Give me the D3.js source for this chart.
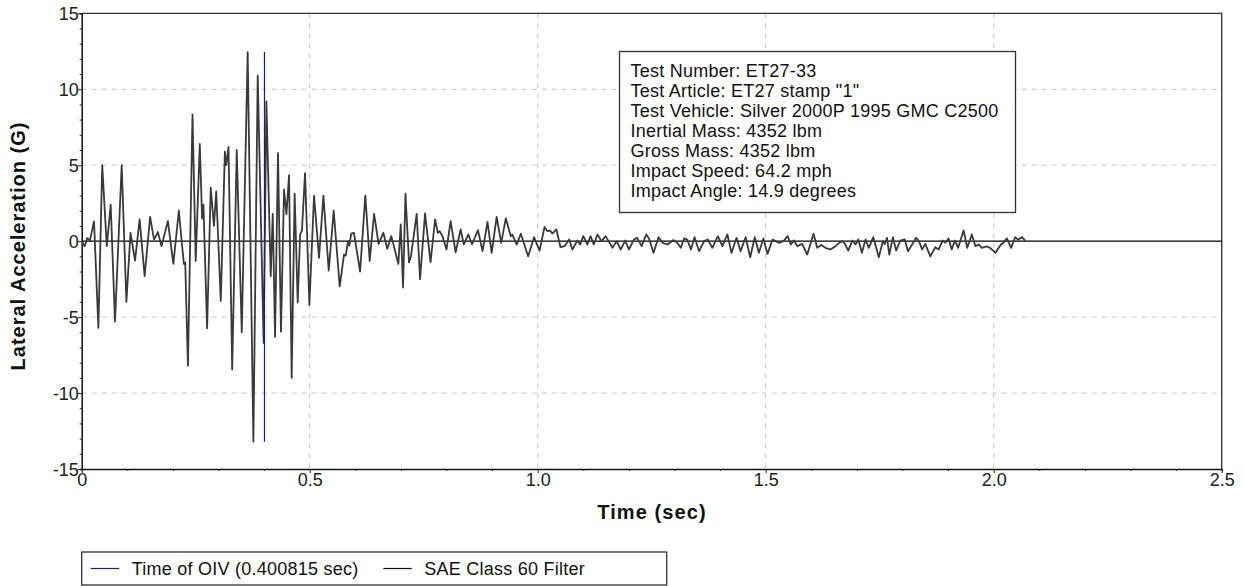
<!DOCTYPE html>
<html>
<head>
<meta charset="utf-8">
<script src="https://cdn.jsdelivr.net/npm/d3@7"></script>
<style>
  body { margin: 0; background: #fff; }
  svg { display: block; font-family: "Liberation Sans", Arial, sans-serif; }
</style>
</head>
<body>
<svg id="chart" width="1244" height="586"></svg>
<script>
// time (sec) and lateral acceleration (G), peak to peak
const times = [
  0.000, 0.0066, 0.012, 0.018, 0.027, 0.0366, 0.045, 0.055, 0.0636, 0.073,
  0.0877, 0.098, 0.107, 0.117, 0.127, 0.138, 0.150, 0.1586, 0.167, 0.175,
  0.189, 0.201, 0.213, 0.224, 0.227, 0.233, 0.243, 0.250, 0.259, 0.264,
  0.267, 0.275, 0.283, 0.290, 0.295, 0.305, 0.314, 0.317, 0.322, 0.330,
  0.340, 0.351, 0.364, 0.3765, 0.386, 0.399, 0.405, 0.4145, 0.419, 0.424,
  0.4305, 0.437, 0.4437, 0.449, 0.4547, 0.4605, 0.467, 0.4737, 0.479, 0.483,
  0.4898, 0.4993, 0.5095, 0.5205, 0.530, 0.5417, 0.5526, 0.5658, 0.5753, 0.579,
  0.584, 0.587, 0.591, 0.597, 0.6105, 0.622, 0.6316, 0.6412, 0.651, 0.6615,
  0.670, 0.679, 0.6944, 0.6996, 0.7047, 0.710, 0.7178, 0.722, 0.7346, 0.742,
  0.753, 0.765, 0.775, 0.781, 0.785, 0.791, 0.800, 0.809, 0.820, 0.831,
  0.838, 0.848, 0.856, 0.869, 0.879, 0.890, 0.899, 0.910, 0.920, 0.930,
  0.941, 0.944, 0.954, 0.963, 0.979, 0.992, 1.004, 1.015, 1.021, 1.027,
  1.032, 1.041, 1.050, 1.059, 1.069, 1.076, 1.087, 1.093, 1.100, 1.109,
  1.116, 1.123, 1.131, 1.140, 1.149, 1.164, 1.173, 1.182, 1.192, 1.200,
  1.211, 1.218, 1.228, 1.238, 1.244, 1.254, 1.265, 1.274, 1.285, 1.297,
  1.306, 1.314, 1.321, 1.328, 1.336, 1.344, 1.354, 1.365, 1.373, 1.383,
  1.395, 1.405, 1.416, 1.425, 1.436, 1.445, 1.456, 1.466, 1.476, 1.485,
  1.495, 1.504, 1.515, 1.522, 1.529, 1.539, 1.548, 1.555, 1.562, 1.569,
  1.580, 1.591, 1.605, 1.613, 1.622, 1.631, 1.642, 1.653, 1.662, 1.668,
  1.673, 1.681, 1.690, 1.697, 1.703, 1.711, 1.719, 1.726, 1.736, 1.748,
  1.757, 1.761, 1.766, 1.771, 1.779, 1.786, 1.795, 1.805, 1.812, 1.821,
  1.830, 1.836, 1.843, 1.850, 1.861, 1.872, 1.879, 1.888, 1.894, 1.901,
  1.908, 1.915, 1.922, 1.934, 1.942, 1.952, 1.960, 1.967, 1.974, 1.985,
  1.992, 2.004, 2.011, 2.016, 2.021, 2.029, 2.038, 2.047, 2.053, 2.062,
  2.069
];
const accel = [
  0, -0.33, 0.2, 0.05, 1.3, -5.7, 5.0, -0.33, 2.4, -5.3,
  5.0, -4.0, 0.55, -1.28, 1.43, -2.3, 1.6, 0.1, 0.6, -0.33,
  1.32, -1.5, 2.0, -1.5, -1.4, -8.2, 8.35, -1.3, 6.4, 1.5,
  2.4, -5.74, 3.53, 1.0, 3.27, -3.93, 5.9, 5.0, 6.2, -8.45,
  6.0, -6.0, 12.45, -13.2, 10.9, -6.7, 9.2, -2.3, 1.8, -6.3,
  5.8, -5.96, 3.4, 1.77, 4.35, -9.0, 3.13, -4.04, 0.44, 0.7,
  4.48, -4.2, 3.0, -1.1, 3.0, -1.94, 2.0, -2.98, -0.88, -0.95,
  0, -0.3, 0.5, 0.55, -2.0, 3.0, -1.3, 1.8, -0.18, 0.55,
  -0.5, 0.33, -1.5, 1.1, -3.05, 3.13, -1.4, -1.0, 1.8, -2.5,
  1.83, -1.39, 1.43, 0.55, 0.66, 0.33, -0.55, 1.32, -0.73, 0.77,
  -0.22, 0.44, -0.22, 0.73, -0.66, 1.26, -0.77, 1.59, -0.11, 1.5,
  0.33, 0.44, -0.22, 0.49, -1.0, 0.26, -0.62, 0.93, 0.66, 0.7,
  0.5, 0.77, -0.4, -0.33, 0.11, -0.55, 0.04, -0.22, 0.33, -0.22,
  0.33, -0.22, 0.44, 0, 0.33, -0.44, 0, -0.55, 0.04, -0.55,
  0.1, 0.22, -0.33, 0.44, 0.18, -0.77, 0.26, -0.11, -0.22, 0.07,
  -0.1, -0.44, 0.18, 0.1, -0.55, 0.26, -0.66, 0, 0.11, -0.44,
  0.33, -0.33, 0.44, -0.77, 0.22, -0.66, 0.26, -1.06, 0.26, -0.77,
  0.18, -0.84, 0.11, 0, -0.11, 0, 0.33, -0.22, 0.05, -0.33,
  -0.18, -0.88, 0.49, -0.44, -0.26, -0.44, -0.55, -0.33, -0.1, 0,
  -0.15, -0.62, 0.04, -0.22, 0.11, -0.77, 0.11, -0.44, 0.26, -1.06,
  0, -0.2, 0.22, -0.88, 0.26, -0.62, 0.04, 0.11, -0.66, -0.22,
  0.22, 0, -0.55, -0.18, -1.0, -0.4, -0.55, 0.04, -0.1, 0.18,
  -0.55, 0.04, -0.44, 0.7, -0.44, 0.44, -0.33, -0.22, -0.44, -0.35,
  -0.44, -0.77, -0.44, -0.22, -0.11, 0.18, -0.44, 0.26, 0.1, 0.26,
  0.04
];

const oivTime = 0.400815;
const xTicks = [0, 0.5, 1.0, 1.5, 2.0, 2.5];
const yTicks = [-15, -10, -5, 0, 5, 10, 15];
const infoLines = [
  "Test Number: ET27-33",
  "Test Article: ET27 stamp \"1\"",
  "Test Vehicle: Silver 2000P 1995 GMC C2500",
  "Inertial Mass: 4352 lbm",
  "Gross Mass: 4352 lbm",
  "Impact Speed: 64.2 mph",
  "Impact Angle: 14.9 degrees"
];
const legendItems = [
  { label: "Time of OIV (0.400815 sec)", color: "#1a1a9a" },
  { label: "SAE Class 60 Filter", color: "#111" }
];

const plot = { left: 81.7, right: 1221.7, top: 13.3, bottom: 469 };

const svg = d3.select("#chart");

const x = d3.scaleLinear().domain([0, 2.5]).range([plot.left, plot.right]);
const y = d3.scaleLinear().domain([-15, 15]).range([plot.bottom, plot.top]);

// dashed grid
svg.append("g")
  .selectAll("line")
  .data(xTicks.slice(1, -1))
  .join("line")
  .attr("x1", d => x(d)).attr("x2", d => x(d))
  .attr("y1", plot.top).attr("y2", plot.bottom)
  .attr("stroke", "#c8c8c8")
  .attr("stroke-dasharray", "5,5");

svg.append("g")
  .selectAll("line")
  .data(yTicks.filter(d => d !== 0 && Math.abs(d) !== 15))
  .join("line")
  .attr("x1", plot.left).attr("x2", plot.right)
  .attr("y1", d => y(d)).attr("y2", d => y(d))
  .attr("stroke", "#c8c8c8")
  .attr("stroke-dasharray", "5,5");

// top and right frame
svg.append("path")
  .attr("d", `M${plot.left},${plot.top}H${plot.right}V${plot.bottom}`)
  .attr("fill", "none")
  .attr("stroke", "#333")
  .attr("stroke-width", 1.3);

// axes
const yAxis = d3.axisLeft(y)
  .tickValues(d3.range(-15, 16, 1))
  .tickSize(2)
  .tickFormat(d => yTicks.includes(d) ? d : "");
const gy = svg.append("g")
  .attr("transform", `translate(${plot.left},0)`)
  .call(yAxis);
gy.selectAll(".tick line").filter(d => yTicks.includes(d)).attr("x2", -4);

const xAxis = d3.axisBottom(x)
  .tickValues(d3.range(0, 26).map(i => i / 10))
  .tickSize(2)
  .tickFormat(d => {
    const m = xTicks.find(t => Math.abs(t - d) < 1e-6);
    return m === undefined ? "" : (m === 0 ? "0" : m.toFixed(1));
  });
const gx = svg.append("g")
  .attr("transform", `translate(0,${plot.bottom})`)
  .call(xAxis);
gx.selectAll(".tick line").filter(d => xTicks.some(t => Math.abs(t - d) < 1e-6)).attr("y2", 4);

[gx, gy].forEach(g => {
  g.select(".domain").attr("stroke", "#111").attr("stroke-width", 1.5);
  g.selectAll(".tick line").attr("stroke", "#222");
  g.selectAll(".tick text")
    .attr("fill", "#222")
    .style("font-size", "18px")
    .style("font-family", "'Liberation Sans', Arial, sans-serif");
});
gy.selectAll(".tick text").attr("x", -3).attr("dy", "0.36em");
gx.selectAll(".tick text").attr("y", 3).attr("dy", "0.78em");

// zero line
svg.append("line")
  .attr("x1", plot.left).attr("x2", plot.right)
  .attr("y1", y(0)).attr("y2", y(0))
  .attr("stroke", "#000")
  .attr("stroke-width", 1.3);

// signal trace
const series = times.map((t, i) => ({ t: t, g: accel[i] }));
const line = d3.line().x(d => x(d.t)).y(d => y(d.g));
svg.append("path")
  .datum(series)
  .attr("fill", "none")
  .attr("stroke", "#3a3a3a")
  .attr("stroke-width", 1.8)
  .attr("stroke-linejoin", "round")
  .attr("d", line);

// OIV marker spans the trace's range
const ext = d3.extent(accel);
svg.append("line")
  .attr("x1", x(oivTime)).attr("x2", x(oivTime))
  .attr("y1", y(ext[0])).attr("y2", y(ext[1]))
  .attr("stroke", legendItems[0].color)
  .attr("stroke-width", 1.2);

// axis titles
svg.append("text")
  .attr("x", 652).attr("y", 519)
  .attr("text-anchor", "middle")
  .style("font-size", "20px")
  .style("font-weight", "bold")
  .style("letter-spacing", "1.1px")
  .attr("fill", "#111")
  .text("Time (sec)");

svg.append("text")
  .attr("transform", "translate(25,246) rotate(-90)")
  .attr("text-anchor", "middle")
  .style("font-size", "20px")
  .style("font-weight", "bold")
  .style("letter-spacing", "1px")
  .attr("fill", "#111")
  .text("Lateral Acceleration (G)");

// info box
const info = svg.append("g");
info.append("rect")
  .attr("x", 619.5).attr("y", 51.5)
  .attr("width", 396).attr("height", 161)
  .attr("fill", "#fff")
  .attr("stroke", "#333")
  .attr("stroke-width", 1.3);
info.selectAll("text")
  .data(infoLines)
  .join("text")
  .attr("x", 630.5)
  .attr("y", (d, i) => 77 + i * 20)
  .style("font-size", "18px")
  .style("letter-spacing", "0.25px")
  .attr("fill", "#111")
  .text(d => d);

// legend
const legend = svg.append("g");
legend.append("rect")
  .attr("x", 81.7).attr("y", 552)
  .attr("width", 585).attr("height", 33)
  .attr("fill", "#fff")
  .attr("stroke", "#333")
  .attr("stroke-width", 1.3);
const legendX = [90.7, 383.3];
legendItems.forEach((item, i) => {
  legend.append("line")
    .attr("x1", legendX[i]).attr("x2", legendX[i] + 28.5)
    .attr("y1", 568.5).attr("y2", 568.5)
    .attr("stroke", item.color)
    .attr("stroke-width", 1.2);
  legend.append("text")
    .attr("x", legendX[i] + 41)
    .attr("y", 575)
    .style("font-size", "18px")
    .style("letter-spacing", "0.25px")
    .attr("fill", "#111")
    .text(item.label);
});
</script>
</body>
</html>
